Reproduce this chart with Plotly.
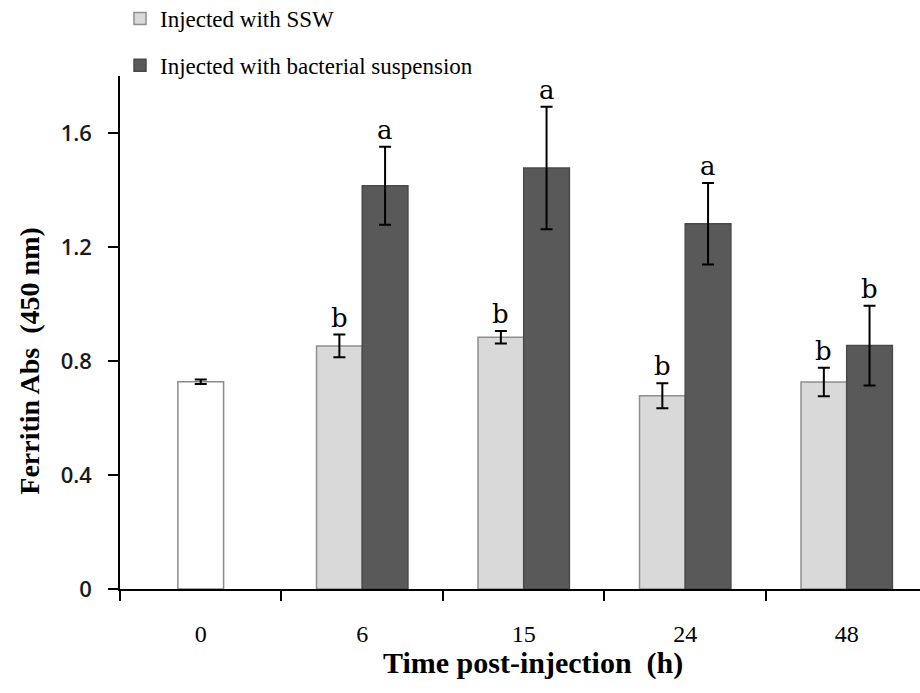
import plotly.graph_objects as go

# ---- data ----
times = ["0", "6", "15", "24", "48"]
control_time = ["0"]
control_mean = [0.727]
control_err = [0.008]

treat_times = ["6", "15", "24", "48"]
ssw_mean = [0.853, 0.883, 0.678, 0.726]
ssw_err = [0.040, 0.022, 0.044, 0.050]
ssw_letters = ["b", "b", "b", "b"]

bact_mean = [1.415, 1.477, 1.282, 0.854]
bact_err = [0.137, 0.215, 0.143, 0.140]
bact_letters = ["a", "a", "a", "b"]

y_ticks = [0, 0.4, 0.8, 1.2, 1.6]
y_ticklabels = ["0", "0.4", "0.8", "1.2", "1.6"]

x_title = "<b>Time post-injection  (h)</b>"
y_title = "<b>Ferritin Abs  (450 nm)</b>"

# ---- layout constants ----
W, H = 920, 693
ML, MR, MT, MB = 120, 0, 76, 104
XR = [-0.5, 4.454]
BW = 0.283
px_per_cat = (W - ML - MR) / (XR[1] - XR[0])
half_bar_px = BW * px_per_cat / 2

err_style = dict(type="data", color="black", thickness=2, width=6)

fig = go.Figure()
fig.add_trace(go.Bar(
    x=control_time, y=control_mean, width=BW, offset=-BW / 2,
    marker=dict(color="white", line=dict(color="#8a8a8a", width=1.5)),
    error_y=dict(array=control_err, **err_style), showlegend=False))
fig.add_trace(go.Bar(
    x=treat_times, y=ssw_mean, width=BW, offset=-BW, name="Injected with SSW",
    legendgroup="g1",
    marker=dict(color="#d9d9d9", line=dict(color="#8f8f8f", width=1.5)),
    error_y=dict(array=ssw_err, **err_style)))
fig.add_trace(go.Bar(
    x=treat_times, y=bact_mean, width=BW, offset=0,
    name="Injected with bacterial suspension", legendgroup="g2",
    marker=dict(color="#595959", line=dict(color="#4a4a4a", width=1.5)),
    error_y=dict(array=bact_err, **err_style)))

letter_font = dict(family="DejaVu Serif", size=26, color="black")
for t, m, e, l in zip(treat_times, ssw_mean, ssw_err, ssw_letters):
    fig.add_annotation(x=times.index(t), y=m + e, text=l, showarrow=False,
                       xshift=-half_bar_px, yanchor="bottom", yshift=0,
                       font=letter_font)
for t, m, e, l in zip(treat_times, bact_mean, bact_err, bact_letters):
    fig.add_annotation(x=times.index(t), y=m + e, text=l, showarrow=False,
                       xshift=half_bar_px, yanchor="bottom", yshift=0,
                       font=letter_font)

# axis titles as paper annotations (positioned off-centre as in the original)
fig.add_annotation(xref="paper", yref="paper", x=0.516, y=-0.145,
                   xanchor="center", yanchor="middle", showarrow=False,
                   text=x_title,
                   font=dict(family="Liberation Serif", size=30, color="black"))
fig.add_annotation(xref="paper", yref="paper", x=-0.1125, y=0.445,
                   xanchor="center", yanchor="middle", showarrow=False,
                   textangle=-90, text=y_title,
                   font=dict(family="Liberation Serif", size=28, color="black"))

fig.update_layout(
    width=W, height=H,
    margin=dict(l=ML, r=MR, t=MT, b=MB, autoexpand=False),
    paper_bgcolor="white", plot_bgcolor="white",
    barmode="overlay",
    legend=dict(x=0.0, y=1.154, xanchor="left", yanchor="top",
                font=dict(family="Liberation Serif", size=23, color="black"),
                tracegroupgap=14, bgcolor="rgba(0,0,0,0)"),
    xaxis=dict(type="category", categoryorder="array", categoryarray=times,
               range=XR, showline=True, linecolor="black", linewidth=1.5,
               ticks="outside", tickson="boundaries", ticklen=10, tickwidth=1.5,
               tickcolor="black", showgrid=False, zeroline=False,
               ticklabelstandoff=22,
               tickfont=dict(family="Liberation Serif", size=24, color="black")),
    yaxis=dict(range=[0, 1.8], tickvals=y_ticks, ticktext=y_ticklabels,
               showline=True, linecolor="black", linewidth=1.5,
               ticks="outside", ticklen=10, tickwidth=1.5, tickcolor="black",
               showgrid=False, zeroline=False, ticklabelstandoff=12,
               tickfont=dict(family="Open Sans", size=22, color="#1a1a1a",
                             weight=600)),
)

fig.write_html("out.html")
